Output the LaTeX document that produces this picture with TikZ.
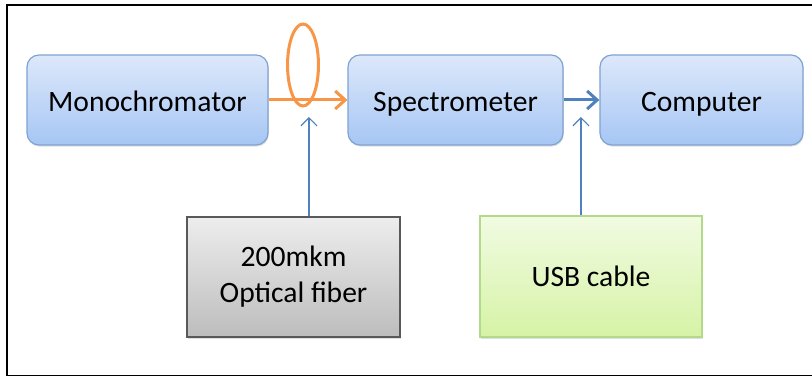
\documentclass[tikz,border=0pt]{standalone}
\usepackage{fontspec}
\setmainfont{Carlito}
\usetikzlibrary{arrows.meta,shadows}
\definecolor{fiberorange}{HTML}{F79646}
\definecolor{linkblue}{HTML}{4F81BD}
\definecolor{boxblueedge}{HTML}{7EA3D2}
\definecolor{boxbluetop}{HTML}{DDE8FA}
\definecolor{boxbluebottom}{HTML}{A6C6F4}
\definecolor{usbtop}{HTML}{F1FBE2}
\definecolor{usbbottom}{HTML}{D6F3A6}
\definecolor{usbedge}{HTML}{B3D98A}
\tikzset{
	devbox/.style={draw=boxblueedge,line width=0.6pt,rounded corners=6pt,top color=boxbluetop,bottom color=boxbluebottom,
		drop shadow={opacity=0.25,shadow xshift=0.4pt,shadow yshift=-0.8pt},font=\fontsize{14.8}{17}\selectfont,inner sep=0pt,
		text height=12.2pt,text depth=1pt},
	partbox/.style={line width=0.6pt,font=\fontsize{14.8}{18}\selectfont,align=center,inner sep=0pt,
		drop shadow={opacity=0.25,shadow xshift=0.4pt,shadow yshift=-0.8pt}},
	thinlink/.style={draw=linkblue,line width=0.6pt,-{Straight Barb[length=4pt,width=8pt]}}
}
\begin{document}
\begin{tikzpicture}[x=1cm,y=1cm]
		\useasboundingbox (0,0) rectangle (14.27,6.625);
		\draw[line width=0.7pt] (14.4,6.537) -- (0.123,6.537) -- (0.123,0.03) -- (14.4,0.03);
		\node[devbox,minimum width=4.235cm,minimum height=1.582cm] (mono) at (2.592,4.868) {Monochromator};
		\node[devbox,minimum width=3.778cm,minimum height=1.582cm] (spec) at (8.005,4.868) {Spectrometer};
		\node[devbox,minimum width=3.567cm,minimum height=1.582cm] (comp) at (12.327,4.868) {Computer};
		\node[partbox,draw=black!65,top color=black!7,bottom color=black!26,minimum width=3.743cm,minimum height=2.109cm] (fiber) at (5.158,1.757) {200mkm\\Optical fiber};
		\node[partbox,draw=usbedge,top color=usbtop,bottom color=usbbottom,minimum width=3.901cm,minimum height=2.126cm] (usb) at (10.386,1.766) {USB cable};
		\draw[fiberorange,line width=1.5pt] (5.325,5.483) ellipse (0.272 and 0.72);
		\draw[fiberorange,line width=1.5pt,-{Straight Barb[length=5pt,width=9pt]}] (mono) -- (spec);
		\draw[linkblue,line width=1.5pt,-{Straight Barb[length=5pt,width=9pt]}] (spec) -- (comp);
		\coordinate (fiberend) at (5.430,4.569);
		\coordinate (usbend) at (10.210,4.569);
		\draw[thinlink] (fiber.north -| fiberend) -- (fiberend);
		\draw[thinlink] (usb.north -| usbend) -- (usbend);
	\end{tikzpicture}
\end{document}
